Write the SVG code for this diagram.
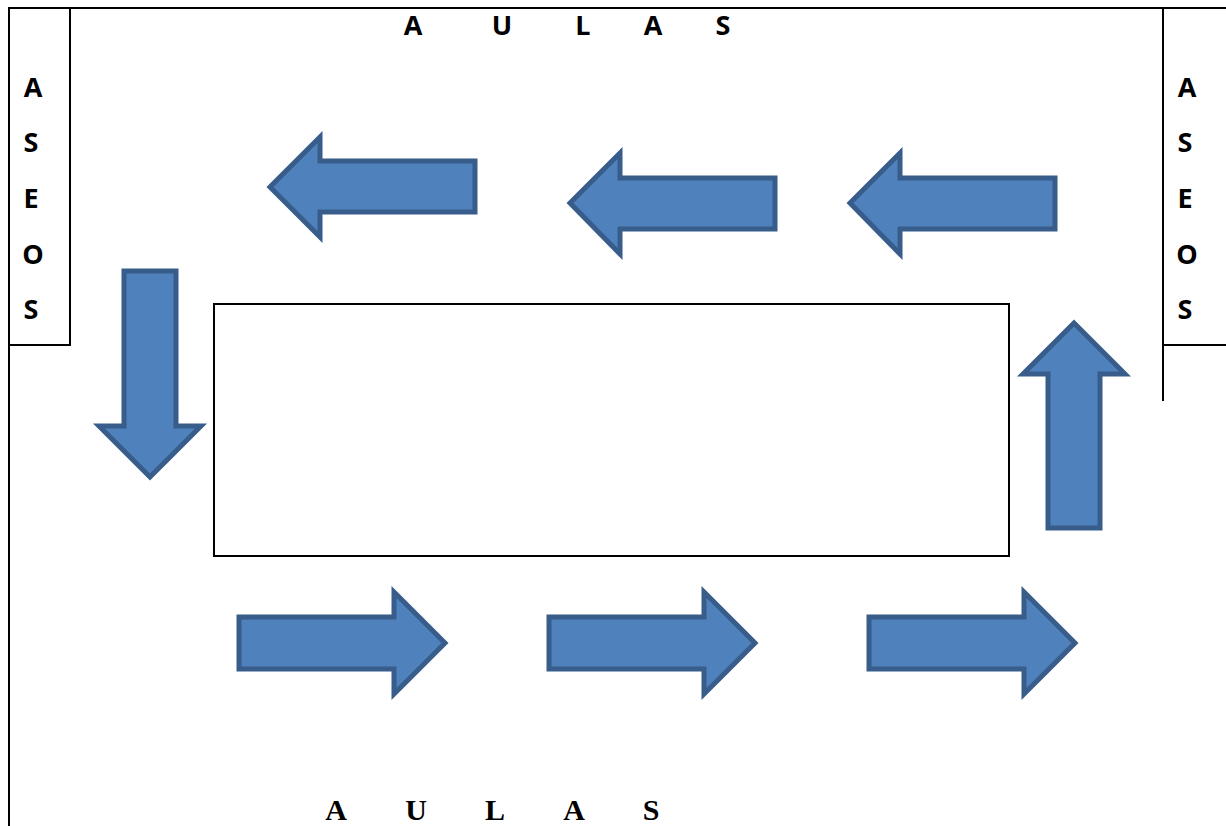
<svg xmlns="http://www.w3.org/2000/svg" width="1226" height="826" viewBox="0 0 1226 826">
<style>
.w{fill:none;stroke:#000;stroke-width:2}
.a{fill:#4f81bd;stroke:#385d8a;stroke-width:5;stroke-miterlimit:8}
.s{font-family:"Open Sans","Lato",sans-serif;font-weight:700;font-size:27px;fill:#000;text-anchor:middle}
.t{font-family:"Liberation Serif",serif;font-weight:700;font-size:30px;fill:#000;text-anchor:middle}
</style>
<rect width="1226" height="826" fill="#fff"/>
<g id="walls">
<path class="w" d="M9 826V8H1226"/>
<path class="w" d="M70 8V345H9"/>
<path class="w" d="M1163 8V401M1163 345H1226"/>
</g>
<g id="patio"><rect class="w" x="214" y="304" width="795" height="252"/></g>
<g id="connectors">
<path class="a" d="M475 161H320V137L270 187L320 237V212H475Z"/>
<path class="a" d="M775 178H620V153L570 203L620 254V229H775Z"/>
<path class="a" d="M1055 178H900V153L850 203L900 254V229H1055Z"/>
<path class="a" d="M124 271V426H99L150 477L201 426H176V271Z"/>
<path class="a" d="M1048 528V374H1023L1074 323L1125 374H1100V528Z"/>
<path class="a" d="M239 617H394V592L445 643L394 694V669H239Z"/>
<path class="a" d="M549 617H704V592L755 643L704 694V669H549Z"/>
<path class="a" d="M869 617H1024V592L1075 643L1024 694V669H869Z"/>
</g>
<g id="aulas-top">
<text class="s" x="413" y="35">A</text><text class="s" x="502" y="35">U</text><text class="s" x="583" y="35">L</text><text class="s" x="653" y="35">A</text><text class="s" x="723" y="35">S</text>
</g>
<g id="aulas-bottom">
<text class="t" x="336" y="820">A</text><text class="t" x="416" y="820">U</text><text class="t" x="495" y="820">L</text><text class="t" x="574" y="820">A</text><text class="t" x="651" y="820">S</text>
</g>
<g id="aseos-left">
<text class="s" x="33" y="97">A</text><text class="s" x="31" y="152">S</text><text class="s" x="31" y="208">E</text><text class="s" x="33" y="264">O</text><text class="s" x="31" y="319">S</text>
</g>
<g id="aseos-right">
<text class="s" x="1187" y="97">A</text><text class="s" x="1185" y="152">S</text><text class="s" x="1185" y="208">E</text><text class="s" x="1187" y="264">O</text><text class="s" x="1185" y="319">S</text>
</g>
</svg>
